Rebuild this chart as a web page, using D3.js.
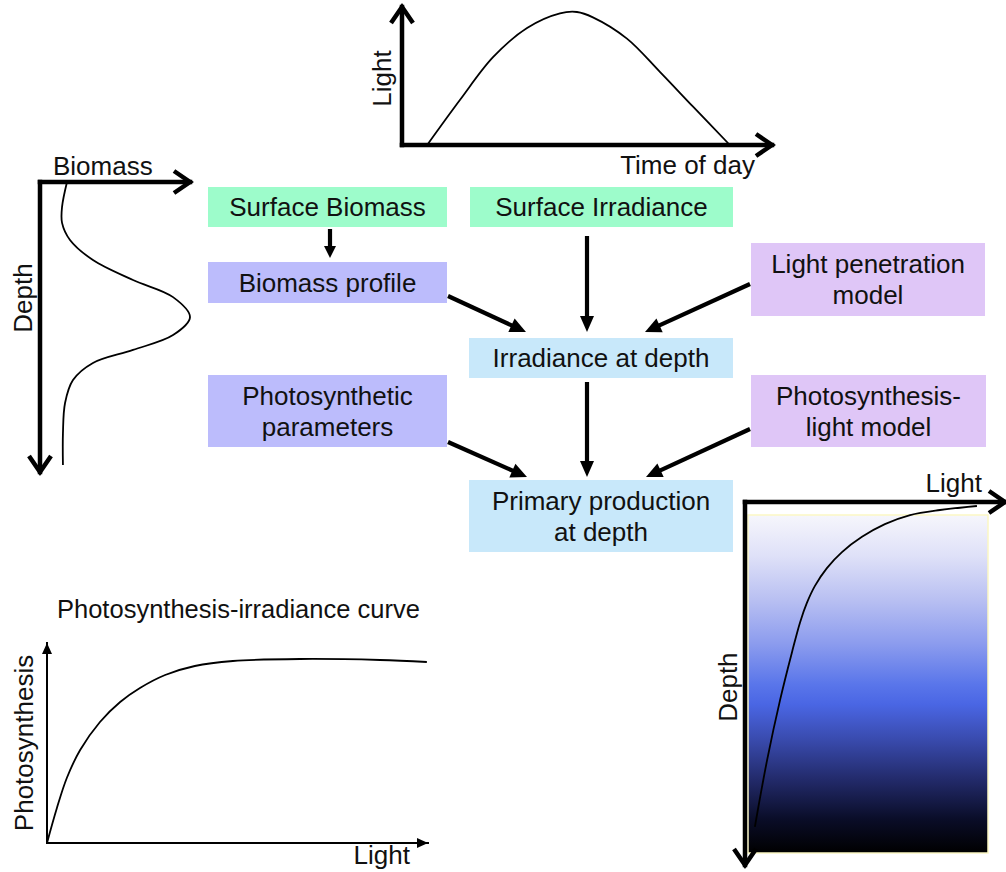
<!DOCTYPE html>
<html><head><meta charset="utf-8">
<script src="https://cdn.jsdelivr.net/npm/d3@7"></script>
<style>
body{margin:0;background:#fff;}
svg{display:block;}
text{font-family:"Liberation Sans",Arial,sans-serif;fill:#111;}
</style>
</head><body>
<svg id="c" width="1006" height="872"></svg>
<script>
// ---------------- DATA ----------------
// Daily light curve (top)
const dayTime  = [6.8, 15.7, 24.6, 33.8, 42.7, 47.3, 51.6, 60.8, 69.7, 78.6, 88.6];
const dayLight = [0, 0.34, 0.66, 0.88, 0.99, 1.0, 0.96, 0.80, 0.55, 0.29, 0];

// Biomass profile (left)
const profileDepth   = [0, 0.086, 0.141, 0.2, 0.269, 0.338, 0.397, 0.466, 0.528, 0.579, 0.624, 0.683, 0.762, 0.866, 0.976];
const profileBiomass = [0.18, 0.147, 0.147, 0.2, 0.353, 0.62, 0.887, 1.0, 0.887, 0.62, 0.353, 0.22, 0.167, 0.153, 0.153];

// Photosynthesis-irradiance curve (bottom left)
const piLight = [0, 0.026, 0.052, 0.087, 0.139, 0.192, 0.244, 0.310, 0.388, 0.488, 0.664, 0.874, 0.997];
const piPhoto = [0, 0.175, 0.325, 0.465, 0.605, 0.705, 0.775, 0.84, 0.885, 0.91, 0.92, 0.915, 0.905];

// Light vs depth (bottom right)
const penDepth = [0.895, 0.711, 0.545, 0.413, 0.331, 0.278, 0.231, 0.182, 0.138, 0.096, 0.061, 0.036, 0.022, 0.011];
const penLight = [0.038, 0.085, 0.135, 0.181, 0.212, 0.238, 0.269, 0.315, 0.373, 0.45, 0.538, 0.635, 0.75, 0.892];

// Flow diagram
const nodeLabels = [
  ["Surface Biomass"],
  ["Surface Irradiance"],
  ["Biomass profile"],
  ["Light penetration", "model"],
  ["Irradiance at depth"],
  ["Photosynthetic", "parameters"],
  ["Photosynthesis-", "light model"],
  ["Primary production", "at depth"]
];
const linkSource = [0, 1, 2, 3, 4, 5, 6];
const linkTarget = [2, 4, 4, 4, 7, 7, 7];

// Axis / titles text
const axisTexts = ["Light", "Time of day", "Biomass", "Depth", "Photosynthesis-irradiance curve", "Photosynthesis", "Light", "Light", "Depth"];

// ---------------- LAYOUT / STYLE ----------------
const svg = d3.select("#c");
const FS = 26;

const nodeBoxes = [
  {x:208, y:187, w:239, h:40, fill:"#9dfccb"},
  {x:470, y:187, w:263, h:40, fill:"#9dfccb"},
  {x:208, y:262, w:239, h:41, fill:"#bcbcfc"},
  {x:751, y:243, w:234, h:73, fill:"#dfc6f7"},
  {x:469, y:338, w:264, h:40, fill:"#c8e8fa"},
  {x:208, y:375, w:239, h:72, fill:"#bcbcfc"},
  {x:751, y:375, w:235, h:72, fill:"#dfc6f7"},
  {x:469, y:480, w:264, h:72, fill:"#c8e8fa"}
];
const linkGeom = [
  {x1:330, y1:229, x2:330, y2:258, hl:12, hw:12},
  {x1:587, y1:236, x2:587, y2:332, hl:16, hw:14},
  {x1:448, y1:296, x2:526, y2:332, hl:16, hw:15},
  {x1:750, y1:284, x2:645, y2:332, hl:16, hw:15},
  {x1:587, y1:382, x2:587, y2:477, hl:16, hw:14},
  {x1:448, y1:442, x2:527, y2:477, hl:16, hw:15},
  {x1:750, y1:429, x2:646, y2:477, hl:16, hw:15}
];

// chevron marker
const defs = svg.append("defs");
function chevron(id, len, half, sw){
  defs.append("marker").attr("id", id)
    .attr("markerUnits","userSpaceOnUse").attr("orient","auto")
    .attr("viewBox", `${-len-6} ${-half-6} ${len+12} ${2*half+12}`)
    .attr("markerWidth", len+12).attr("markerHeight", 2*half+12)
    .attr("refX", 0).attr("refY", 0)
    .append("path").attr("d", `M${-len},${-half}L0,0L${-len},${half}`)
    .attr("fill","none").attr("stroke","#000").attr("stroke-width", sw)
    .attr("stroke-linejoin","miter").attr("stroke-linecap","butt");
}
chevron("chev", 16, 11, 4.5);
defs.append("marker").attr("id","tri")
  .attr("markerUnits","userSpaceOnUse").attr("orient","auto")
  .attr("viewBox","-12 -6 14 12").attr("markerWidth",14).attr("markerHeight",12)
  .attr("refX",0).attr("refY",0)
  .append("path").attr("d","M-11,-5L0,0L-11,5Z").attr("fill","#000");

// gradient
const grad = defs.append("linearGradient").attr("id","sea").attr("x1",0).attr("y1",0).attr("x2",0).attr("y2",1);
[[0,"#f6f6fc"],[0.12,"#dfe1f8"],[0.25,"#b9c0f2"],[0.38,"#8c9cee"],[0.5,"#5a76ea"],[0.56,"#4a66e4"],[0.66,"#3a4cb0"],[0.78,"#232b6c"],[0.9,"#0a0d28"],[1,"#000"]]
  .forEach(([o,c]) => grad.append("stop").attr("offset",o).attr("stop-color",c));

function axisLine(g, x1, y1, x2, y2, sw, marker){
  g.append("line").attr("x1",x1).attr("y1",y1).attr("x2",x2).attr("y2",y2)
    .attr("stroke","#000").attr("stroke-width",sw).attr("stroke-linecap","square")
    .attr("marker-end", marker ? `url(#${marker})` : null);
}

// ---------- Top: light vs time of day ----------
{
  const g = svg.append("g");
  const x = d3.scaleLinear([0,100],[402,772]);
  const y = d3.scaleLinear([0,1],[145,12]);
  axisLine(g, x(0), y(0), x(0), 7, 4.5, "chev");
  axisLine(g, x(0), y(0), x(100), y(0), 4.5, "chev");
  g.append("path").datum(d3.zip(dayTime, dayLight))
    .attr("d", d3.line().x(d=>x(d[0])).y(d=>y(d[1])).curve(d3.curveCatmullRom))
    .attr("fill","none").attr("stroke","#000").attr("stroke-width",1.8);
  g.append("text").attr("transform",`translate(${x(0)-11},${y(0.5)}) rotate(-90)`)
    .attr("text-anchor","middle").attr("font-size",FS).text(axisTexts[0]);
  g.append("text").attr("x",x(100)-17).attr("y",y(0)+29).attr("text-anchor","end")
    .attr("font-size",FS).text(axisTexts[1]);
}

// ---------- Left: biomass profile ----------
{
  const g = svg.append("g");
  const x = d3.scaleLinear([0,1],[40,190]);
  const y = d3.scaleLinear([0,1],[182,472]);
  axisLine(g, x(0), y(0), x(1), y(0), 4.5, "chev");
  axisLine(g, x(0), y(0), x(0), y(1), 4.5, "chev");
  g.append("path").datum(d3.zip(profileBiomass, profileDepth))
    .attr("d", d3.line().x(d=>x(d[0])).y(d=>y(d[1])).curve(d3.curveCatmullRom))
    .attr("fill","none").attr("stroke","#000").attr("stroke-width",1.8);
  g.append("text").attr("x",53).attr("y",175).attr("font-size",FS).text(axisTexts[2]);
  g.append("text").attr("transform",`translate(${x(0)-8},${y(0.4)}) rotate(-90)`)
    .attr("text-anchor","middle").attr("font-size",FS).text(axisTexts[3]);
}

// ---------- Flow diagram ----------
{
  const g = svg.append("g");
  const nodes = g.selectAll("g.node").data(nodeLabels).join("g").attr("class","node");
  nodes.append("rect")
    .attr("x",(d,i)=>nodeBoxes[i].x).attr("y",(d,i)=>nodeBoxes[i].y)
    .attr("width",(d,i)=>nodeBoxes[i].w).attr("height",(d,i)=>nodeBoxes[i].h)
    .attr("fill",(d,i)=>nodeBoxes[i].fill);
  nodes.each(function(lines,i){
    const b = nodeBoxes[i];
    const cx = b.x + b.w/2, cy = b.y + b.h/2;
    const lh = 31;
    lines.forEach((t,k)=>{
      d3.select(this).append("text").attr("x",cx)
        .attr("y", cy + (k - (lines.length-1)/2)*lh + 9)
        .attr("text-anchor","middle").attr("font-size",FS).text(t);
    });
  });
  linkSource.forEach((s,i)=>{
    const L = linkGeom[i];
    const dx = L.x2-L.x1, dy = L.y2-L.y1, len = Math.hypot(dx,dy);
    const ux = dx/len, uy = dy/len;
    const bx = L.x2 - ux*L.hl, by = L.y2 - uy*L.hl;
    g.append("line").attr("x1",L.x1).attr("y1",L.y1).attr("x2",bx+ux*2).attr("y2",by+uy*2)
      .attr("stroke","#000").attr("stroke-width",4.2);
    g.append("path").attr("d",`M${L.x2},${L.y2}L${bx - uy*L.hw/2},${by + ux*L.hw/2}L${bx + uy*L.hw/2},${by - ux*L.hw/2}Z`)
      .attr("fill","#000");
  });
}

// ---------- Bottom left: P-I curve ----------
{
  const g = svg.append("g");
  const x = d3.scaleLinear([0,1],[47,428]);
  const y = d3.scaleLinear([0,1],[843,643]);
  axisLine(g, x(0), y(0), x(0), y(1), 2, "tri");
  axisLine(g, x(0), y(0), x(1), y(0), 2, "tri");
  g.append("path").datum(d3.zip(piLight, piPhoto))
    .attr("d", d3.line().x(d=>x(d[0])).y(d=>y(d[1])).curve(d3.curveCatmullRom))
    .attr("fill","none").attr("stroke","#000").attr("stroke-width",1.8);
  g.append("text").attr("x",57).attr("y",618).attr("font-size",25.5).text(axisTexts[4]);
  g.append("text").attr("transform",`translate(${x(0)-14},${y(0.5)}) rotate(-90)`)
    .attr("text-anchor","middle").attr("font-size",FS).text(axisTexts[5]);
  g.append("text").attr("x",410).attr("y",864).attr("text-anchor","end").attr("font-size",FS).text(axisTexts[6]);
}

// ---------- Bottom right: light vs depth ----------
{
  const g = svg.append("g");
  const x = d3.scaleLinear([0,1],[745,1005]);
  const y = d3.scaleLinear([0,1],[502,865]);
  g.append("rect").attr("x",748).attr("y",515).attr("width",240).attr("height",338)
    .attr("fill","url(#sea)").attr("stroke","#fbf7c4").attr("stroke-width",1.5);
  axisLine(g, x(0), y(0), x(1), y(0), 4.5, "chev");
  axisLine(g, x(0), y(0), x(0), y(1), 4.5, "chev");
  g.append("path").datum(d3.zip(penLight, penDepth))
    .attr("d", d3.line().x(d=>x(d[0])).y(d=>y(d[1])).curve(d3.curveCatmullRom))
    .attr("fill","none").attr("stroke","#000").attr("stroke-width",1.8);
  g.append("text").attr("x",982).attr("y",492).attr("text-anchor","end").attr("font-size",FS).text(axisTexts[7]);
  g.append("text").attr("transform",`translate(${x(0)-8},${y(0.51)}) rotate(-90)`)
    .attr("text-anchor","middle").attr("font-size",FS).text(axisTexts[8]);
}
</script>
</body></html>
